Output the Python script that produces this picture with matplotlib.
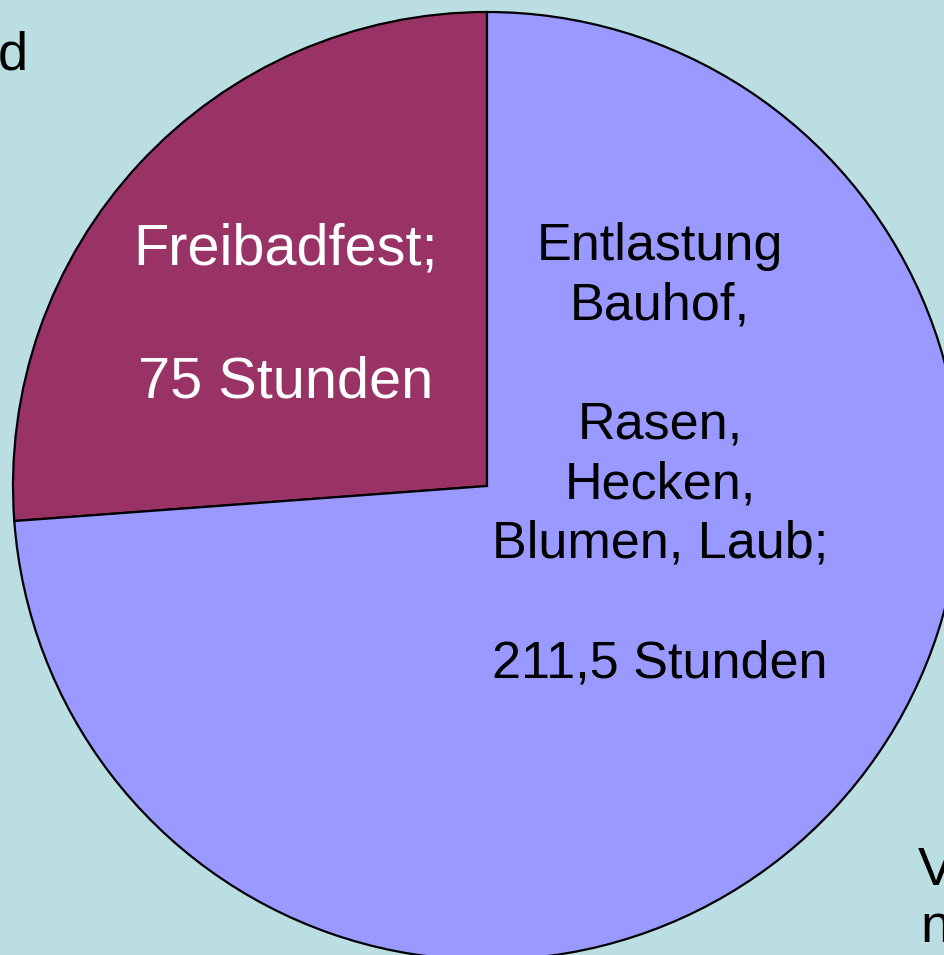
import matplotlib.pyplot as plt

plt.rcParams['font.family'] = ['Liberation Sans', 'DejaVu Sans']

# data
slices = ['Freibadfest', 'Entlastung Bauhof']
stunden = [75, 211.5]
labels = ['Freibadfest;\n\n75 Stunden',
          'Entlastung\nBauhof,\n\nRasen,\nHecken,\nBlumen, Laub;\n\n211,5 Stunden']
colors = ['#993366', '#9999FF']
label_colors = ['white', 'black']

bg = '#BBDEE2'
W, H = 945, 955

fig = plt.figure(figsize=(W / 100, H / 100), dpi=100, facecolor=bg)
ax = fig.add_axes([0, 0, 1, 1])
ax.set_facecolor(bg)

ax.pie(stunden, colors=colors, startangle=90, counterclock=True,
       center=(487, H - 486), radius=474,
       wedgeprops=dict(edgecolor='black', linewidth=1.6))

ax.set_xlim(0, W)
ax.set_ylim(0, H)
ax.set_aspect('equal')
ax.axis('off')

# labels inside the slices
ax.text(286, H - 316, labels[0], color=label_colors[0], fontsize=41.5,
        ha='center', va='center', linespacing=1.3)
ax.text(660, H - 455, labels[1], color=label_colors[1], fontsize=37.5,
        ha='center', va='center', linespacing=1.28, multialignment='center')

# cut-off labels of the other entries
ax.text(28, H - 70, 'd', fontsize=39, ha='right', va='baseline')
ax.text(918, H - 885, 'V', fontsize=39, ha='left', va='baseline')
ax.text(920, H - 942, 'n', fontsize=39, ha='left', va='baseline')

fig.savefig('out.png', dpi=100, facecolor=bg)
